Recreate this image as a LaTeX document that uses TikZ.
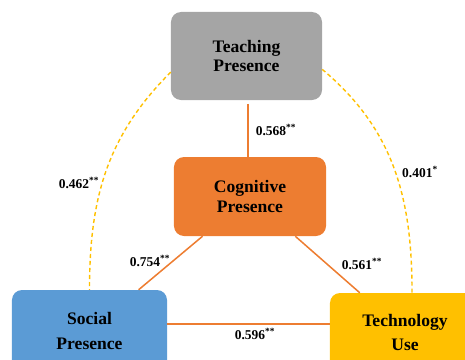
\documentclass[tikz,border=0pt]{standalone}
\usepackage{fontspec}
\setmainfont{Liberation Serif}
\usepackage{xcolor}
\definecolor{tpgray}{HTML}{A5A5A5}
\definecolor{cporange}{HTML}{ED7D31}
\definecolor{spblue}{HTML}{5B9BD5}
\definecolor{tugold}{HTML}{FFC000}
\usetikzlibrary{positioning, calc}

\begin{document}
\begin{tikzpicture}[
  x=0.03cm, y=-0.03cm,
  every node/.style={font=\bfseries},
  construct/.style={rectangle, rounded corners=0.3cm, fill=#1, draw=none,
                    text=black, align=center,
                    font=\fontsize{15}{16.5}\selectfont\bfseries},
  directpath/.style={cporange, line width=1.3pt},
  corr/.style={tugold, dashed, dash pattern=on 3.5pt off 2.5pt, line width=1.2pt},
  coef/.style={font=\fontsize{11.5}{13}\selectfont\bfseries, inner sep=1pt}
]
  \clip (0,0) rectangle (465,360);

  \node[construct=tpgray, minimum width=4.53cm, minimum height=2.64cm]
    (tp) at (246.5,56) {Teaching\\Presence};
  \node[construct=cporange, minimum width=4.56cm, minimum height=2.37cm]
    (cp) at (250,196.5) {Cognitive\\Presence};
  \node[construct=spblue, minimum width=4.65cm, minimum height=2.46cm]
    (sp) at (89.5,331) {Social\\[5pt]Presence};
  \node[construct=tugold, minimum width=4.5cm, minimum height=2.37cm]
    (tu) at (405,332.5) {Technology\\[4pt]Use};
  \coordinate (base) at (0,324);

  % direct paths
  \draw[directpath] ([yshift=-3pt]tp.south -| 248,0) -- (cp.north -| 248,0);
  \draw[directpath] (cp) -- (sp);
  \draw[directpath] (cp) -- (tu);
  \draw[directpath] (sp.east |- base) -- (tu.west |- base);

  % correlations
  \draw[corr] (tp.192) to[out=225, in=90] (sp.north);
  \draw[corr] (tp.-10) to[out=-40, in=90] ([xshift=6pt]tu.north);

  \node[coef] at (276,130) {0.568\textsuperscript{**}};
  \node[coef] at (150,261) {0.754\textsuperscript{**}};
  \node[coef] at (362,264) {0.561\textsuperscript{**}};
  \node[coef] at (255,334) {0.596\textsuperscript{**}};
  \node[coef] at (79,183) {0.462\textsuperscript{**}};
  \node[coef] at (420,172) {0.401\textsuperscript{*}};
\end{tikzpicture}
\end{document}
